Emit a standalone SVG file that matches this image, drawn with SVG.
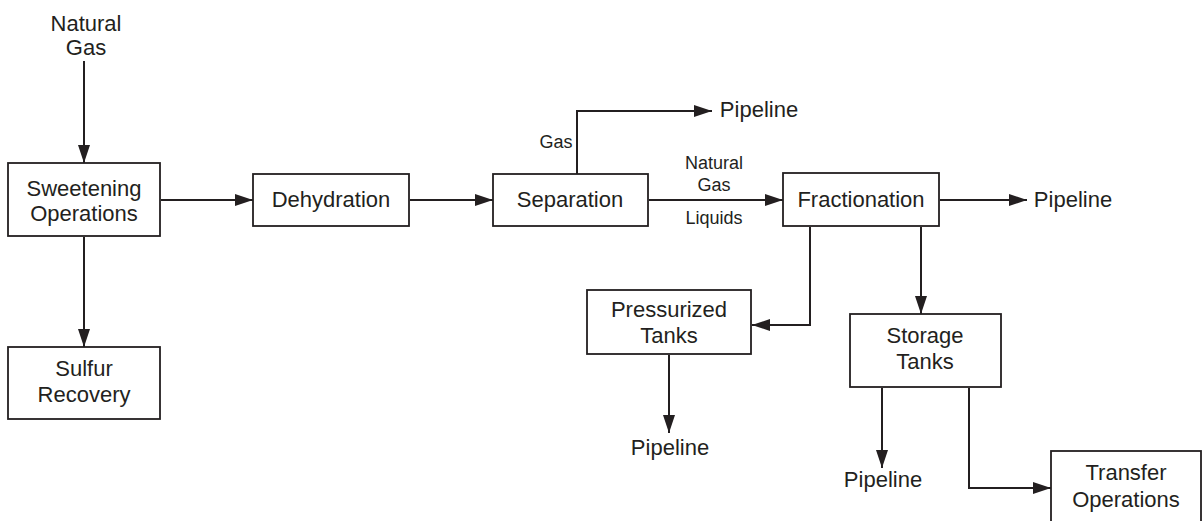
<svg xmlns="http://www.w3.org/2000/svg" width="1202" height="521" viewBox="0 0 1202 521">
<defs>
<marker id="ah" markerUnits="userSpaceOnUse" markerWidth="18" markerHeight="12" refX="18" refY="6" orient="auto">
<path d="M0,0 L18,6 L0,12 z" fill="#231f20"/>
</marker>
<style>
.box{fill:#fff;stroke:#231f20;stroke-width:1.8}
.t{font-family:"Liberation Sans",Arial,sans-serif;font-size:22px;fill:#231f20;text-anchor:middle}
.s{font-family:"Liberation Sans",Arial,sans-serif;font-size:18px;fill:#231f20;text-anchor:middle}
.c{fill:none;stroke:#231f20;stroke-width:2;marker-end:url(#ah)}
</style>
</defs>
<rect width="1202" height="521" fill="#fff"/>
<g id="connectors">
<path class="c" d="M84,61 V163"/>
<path class="c" d="M84,237 V347"/>
<path class="c" d="M161,200 H253"/>
<path class="c" d="M410,200 H493"/>
<path class="c" d="M577,174 V111 H712"/>
<path class="c" d="M649,200 H783"/>
<path class="c" d="M940,200 H1027"/>
<path class="c" d="M810,227 V325 H752"/>
<path class="c" d="M921,227 V314"/>
<path class="c" d="M669,355 V433"/>
<path class="c" d="M882,388 V468"/>
<path class="c" d="M969,388 V488 H1051"/>
</g>
<g id="labels">
<text class="t" x="86" y="31">Natural</text>
<text class="t" x="86" y="55">Gas</text>
<text class="s" x="556" y="148">Gas</text>
<text class="t" x="759" y="117">Pipeline</text>
<text class="s" x="714" y="169">Natural</text>
<text class="s" x="714" y="191">Gas</text>
<text class="s" x="714" y="224">Liquids</text>
<text class="t" x="1073" y="207">Pipeline</text>
<text class="t" x="670" y="455">Pipeline</text>
<text class="t" x="883" y="487">Pipeline</text>
</g>
<g id="sweetening">
<rect class="box" x="8" y="163" width="152" height="73"/>
<text class="t" x="84" y="196">Sweetening</text>
<text class="t" x="84" y="221">Operations</text>
</g>
<g id="sulfur">
<rect class="box" x="8" y="347" width="152" height="72"/>
<text class="t" x="84" y="376">Sulfur</text>
<text class="t" x="84" y="402">Recovery</text>
</g>
<g id="dehydration">
<rect class="box" x="253" y="174" width="156" height="52"/>
<text class="t" x="331" y="207">Dehydration</text>
</g>
<g id="separation">
<rect class="box" x="493" y="174" width="155" height="52"/>
<text class="t" x="570" y="207">Separation</text>
</g>
<g id="fractionation">
<rect class="box" x="783" y="173" width="156" height="53"/>
<text class="t" x="861" y="207">Fractionation</text>
</g>
<g id="pressurized">
<rect class="box" x="587" y="290" width="164" height="64"/>
<text class="t" x="669" y="317">Pressurized</text>
<text class="t" x="669" y="343">Tanks</text>
</g>
<g id="storage">
<rect class="box" x="850" y="314" width="151" height="73"/>
<text class="t" x="925" y="343">Storage</text>
<text class="t" x="925" y="369">Tanks</text>
</g>
<g id="transfer">
<rect class="box" x="1051" y="451" width="150" height="80"/>
<text class="t" x="1126" y="480">Transfer</text>
<text class="t" x="1126" y="507">Operations</text>
</g>
</svg>
